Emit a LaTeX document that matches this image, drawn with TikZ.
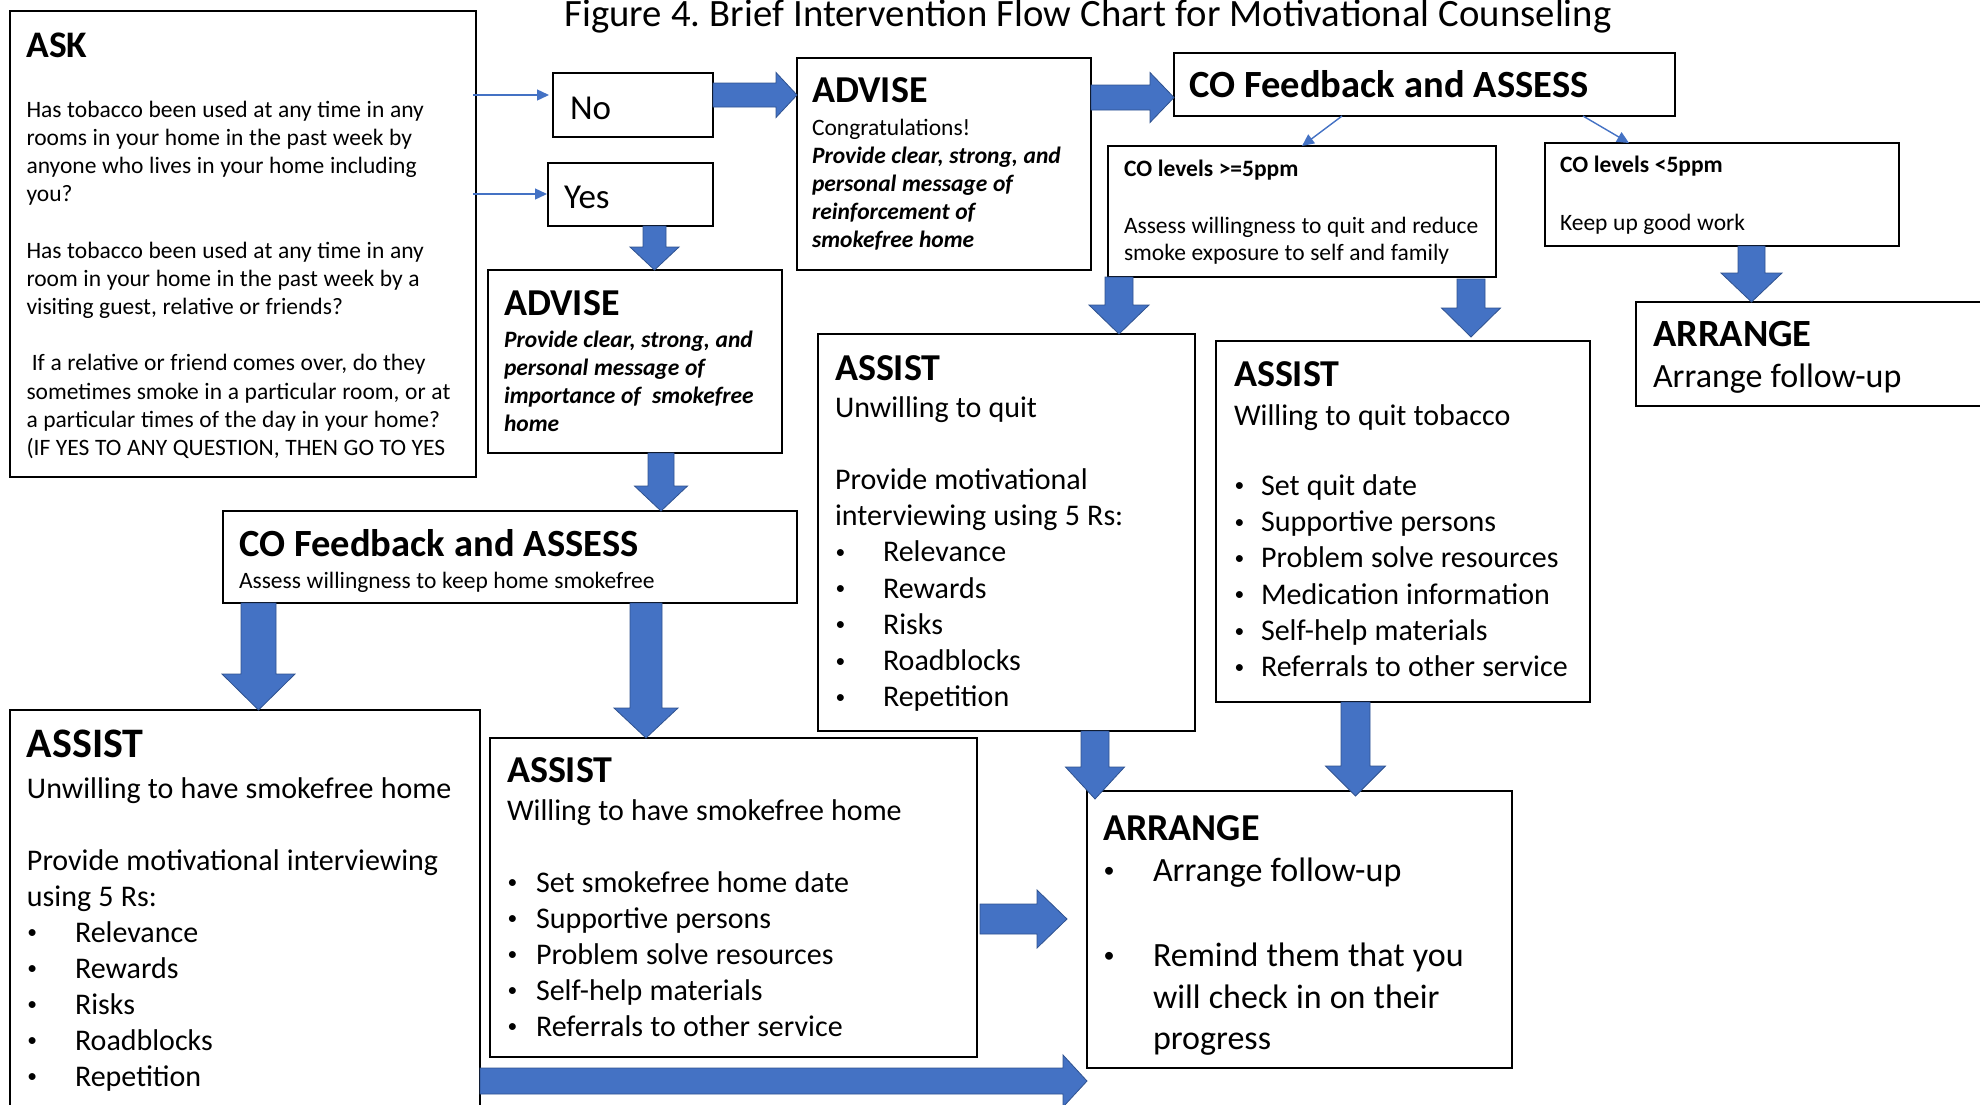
\documentclass[tikz,border=0pt]{standalone}
\usepackage{graphicx}
\usepackage{fontspec}
\setmainfont{Carlito}
\usetikzlibrary{arrows.meta,calc}
\definecolor{ablue}{HTML}{4472C4}
\definecolor{aedge}{HTML}{2F528F}
\newcommand\fsz[2]{\fontsize{#1pt}{#2pt}\selectfont}
\newcommand\sk{\frenchspacing\spaceskip=0.24em\relax\xspaceskip=0.24em\relax}
\newcommand\bul[1]{\makebox[#1][l]{\hspace{0.5pt}\raisebox{0.11em}{\scalebox{0.65}{\textbullet}}}}
% block arrow pointing down: x(px), from, to, shaft half width, head half width, head length
\newcommand\bdown[6]{\path[blockarr] let \p1=(#2), \p2=(#3) in
  (#1pt-#4pt,\y1) -- (#1pt-#4pt,\y2+#6pt) -- (#1pt-#5pt,\y2+#6pt) -- (#1pt,\y2)
  -- (#1pt+#5pt,\y2+#6pt) -- (#1pt+#4pt,\y2+#6pt) -- (#1pt+#4pt,\y1) -- cycle;}
% block arrow pointing right: y(px), from, to, shaft half width, head half width, head length
\newcommand\bright[6]{\path[blockarr] let \p1=(#2), \p2=(#3) in
  (\x1,-#1pt+#4pt) -- (\x2-#6pt,-#1pt+#4pt) -- (\x2-#6pt,-#1pt+#5pt) -- (\x2,-#1pt)
  -- (\x2-#6pt,-#1pt-#5pt) -- (\x2-#6pt,-#1pt-#4pt) -- (\x1,-#1pt-#4pt) -- cycle;}
\begin{document}
\begin{tikzpicture}[x=1pt,y=-1pt,
  bx/.style={draw=black,line width=1.8pt,inner sep=0pt,outer sep=0pt,anchor=north west},
  txt/.style={anchor=base west,inner sep=0pt,outer sep=0pt,text width=#1,align=left},
  thinarr/.style={draw=ablue,line width=1.4pt,-{Triangle[length=12pt,width=11pt]}},
  blockarr/.style={fill=ablue,draw=aedge,line width=0.8pt}]
\useasboundingbox (0,0) rectangle (1980,1104);
\clip (0,0) rectangle (1980,1104);

% ---------- boxes ----------
\node[bx,minimum width=466pt,minimum height=466pt] (ask) at (10,11) {};
\node[bx,minimum width=160pt,minimum height=64pt] (no) at (553,73) {};
\node[bx,minimum width=165pt,minimum height=63pt] (yes) at (548,163) {};
\node[bx,minimum width=294pt,minimum height=183pt] (advL) at (488,270) {};
\node[bx,minimum width=294pt,minimum height=212pt] (advT) at (797,58) {};
\node[bx,minimum width=501pt,minimum height=63pt] (coT) at (1174,53) {};
\node[bx,minimum width=388pt,minimum height=131pt] (ge5) at (1108,146) {};
\node[bx,minimum width=354pt,minimum height=103pt] (lt5) at (1545,143) {};
\node[bx,minimum width=400pt,minimum height=104pt] (arrR) at (1636,302) {};
\node[bx,minimum width=574pt,minimum height=92pt] (coL) at (223,511) {};
\node[bx,minimum width=377pt,minimum height=397pt] (uq) at (818,334) {};
\node[bx,minimum width=374pt,minimum height=361pt] (wq) at (1216,341) {};
\node[bx,minimum width=470pt,minimum height=420pt] (uh) at (10,710) {};
\node[bx,minimum width=487pt,minimum height=319pt] (wh) at (490,738) {};
\node[bx,minimum width=425pt,minimum height=277pt] (arrB) at (1087,791) {};

% ---------- texts ----------
\node[anchor=base,inner sep=0pt,font=\fsz{38.7}{46}] (title) at (1088,26.5)
  {\sk Figure 4. Brief Intervention Flow Chart for Motivational Counseling};

\node[txt=200pt,font={\fsz{37.5}{45}\bfseries}] (askH) at (26.5,57) {\sk ASK};
\node[txt=500pt,font=\fsz{23.5}{28.2}] (askB) at (26.5,117) {\sk Has tobacco been used at any time in any\\
 rooms in your home in the past week by\\
 anyone who lives in your home including\\
 you?\\[28.2pt]
 Has tobacco been used at any time in any\\
 room in your home in the past week by a\\
 visiting guest, relative or friends?\\[28.2pt]
 \hspace*{5.3pt}If a relative or friend comes over, do they\\
 sometimes smoke in a particular room, or at\\
 a particular times of the day in your home?\\
 (IF YES TO ANY QUESTION, THEN GO TO YES};

\node[txt=120pt,font=\fsz{35}{42}] (noT) at (570,119) {\sk No};
\node[txt=120pt,font=\fsz{35}{42}] (yesT) at (564,208) {\sk Yes};

\node[txt=280pt,font={\fsz{38}{46}\bfseries}] (advTH) at (812,102) {\sk ADVISE};
\node[txt=320pt,font=\fsz{23.5}{28}] (advTB) at (812,135) {\sk Congratulations!\\
 \bfseries\itshape Provide clear, strong, and\\ personal message of\\ reinforcement of\\ smokefree home};

\node[txt=280pt,font={\fsz{38}{46}\bfseries}] (advLH) at (504,315) {\sk ADVISE};
\node[txt=320pt,font={\fsz{23.5}{28}\bfseries\itshape}] (advLB) at (504,347) {\sk Provide clear, strong, and\\
 personal message of\\ importance of\ \ smokefree\\ home};

\node[txt=500pt,font={\fsz{38.5}{46}\bfseries}] (coTT) at (1189,97) {\sk CO Feedback and ASSESS};

\node[txt=400pt,font={\fsz{23.5}{28}\bfseries}] (ge5H) at (1124,176) {\sk CO levels >=5ppm};
\node[txt=400pt,font=\fsz{23.5}{27}] (ge5B) at (1124,233) {\sk Assess willingness to quit and reduce\\
 smoke exposure to self and family};

\node[txt=350pt,font={\fsz{23.5}{28}\bfseries}] (lt5H) at (1560,172) {\sk CO levels <5ppm};
\node[txt=350pt,font=\fsz{23.5}{28}] (lt5B) at (1560,230) {\sk Keep up good work};

\node[txt=320pt,font={\fsz{38.5}{46}\bfseries}] (arrRH) at (1653,346) {\sk ARRANGE};
\node[txt=320pt,font=\fsz{34}{41}] (arrRB) at (1653,387) {\sk Arrange follow-up};

\node[txt=600pt,font={\fsz{38.5}{46}\bfseries}] (coLH) at (239,556) {\sk CO Feedback and ASSESS};
\node[txt=600pt,font=\fsz{23.5}{28}] (coLB) at (239,588) {\sk Assess willingness to keep home smokefree};

\node[txt=380pt,font={\fsz{38}{46}\bfseries}] (uqH) at (835,380) {\sk ASSIST};
\node[txt=400pt,font=\fsz{30}{36.2}] (uqB) at (835,417) {\sk Unwilling to quit\\[36.2pt]
 Provide motivational\\ interviewing using 5 Rs:\\
 \bul{48pt}Relevance\\ \bul{48pt}Rewards\\ \bul{48pt}Risks\\ \bul{48pt}Roadblocks\\ \bul{48pt}Repetition};

\node[txt=380pt,font={\fsz{38}{46}\bfseries}] (wqH) at (1234,386) {\sk ASSIST};
\node[txt=400pt,font=\fsz{30}{36.3}] (wqB) at (1234,425) {\sk Willing to quit tobacco\\[33.8pt]
 \bul{27pt}Set quit date\\ \bul{27pt}Supportive persons\\ \bul{27pt}Problem solve resources\\
 \bul{27pt}Medication information\\ \bul{27pt}Self-help materials\\ \bul{27pt}Referrals to other service};

\node[txt=480pt,font={\fsz{42}{50}\bfseries}] (uhH) at (27,757) {\sk ASSIST};
\node[txt=500pt,font=\fsz{30}{36}] (uhB) at (27,798) {\sk Unwilling to have smokefree home\\[36pt]
 Provide motivational interviewing\\ using 5 Rs:\\
 \bul{48pt}Relevance\\ \bul{48pt}Rewards\\ \bul{48pt}Risks\\ \bul{48pt}Roadblocks\\ \bul{48pt}Repetition};

\node[txt=480pt,font={\fsz{38}{46}\bfseries}] (whH) at (507,782) {\sk ASSIST};
\node[txt=500pt,font=\fsz{30}{36}] (whB) at (507,820) {\sk Willing to have smokefree home\\[36pt]
 \bul{29pt}Set smokefree home date\\ \bul{29pt}Supportive persons\\ \bul{29pt}Problem solve resources\\
 \bul{29pt}Self-help materials\\ \bul{29pt}Referrals to other service};

\node[txt=420pt,font={\fsz{38}{46}\bfseries}] (arrBH) at (1103,840) {\sk ARRANGE};
\node[txt=450pt,font=\fsz{34}{41.5}] (arrBB) at (1103,881) {\sk\bul{50pt}Arrange follow-up\\[44pt]
 \bul{50pt}Remind them that you\\ \hspace*{50pt}will check in on their\\ \hspace*{50pt}progress};

% ---------- thin connectors ----------
\coordinate (askNo) at (473,95);
\coordinate (askYes) at (473,194);
\coordinate (coTa) at (1342,116);
\coordinate (coTb) at (1583,116);
\draw[thinarr,shorten >=4pt] (askNo) -- (askNo -| no.west);
\draw[thinarr,shorten >=1pt] (askYes) -- (askYes -| yes.west);
\draw[thinarr] (coTa) -- (ge5.north);
\draw[thinarr] (coTb) -- ([xshift=84pt]lt5.north west);

% ---------- block arrows ----------
\bright{95}{no.east}{advT.west}{12}{22.5}{21}
\bright{97.5}{advT.east}{coT.west}{12.5}{25}{24}
\bdown{654.5}{yes.south}{advL.north}{11.5}{24.5}{23}
\bdown{661}{advL.south}{coL.north}{13}{26.5}{25}
\bdown{258.5}{coL.south}{uh.north}{17.5}{36.5}{36}
\bdown{646}{coL.south}{wh.north}{16}{32}{30}
\bdown{1119}{ge5.south}{uq.north}{14}{30}{29}
\bdown{1471}{[yshift=-2pt]ge5.south}{[yshift=4pt]wq.north}{14}{29.5}{29}
\bdown{1751.5}{lt5.south}{arrR.north}{13.5}{30.5}{29}
\bdown{1095}{uq.south}{[yshift=-8pt]arrB.north}{14}{29.5}{32}
\bdown{1355.5}{wq.south}{[yshift=-5pt]arrB.north}{14.5}{30}{30}
\bright{919}{[xshift=3pt]wh.east}{[xshift=-20pt]arrB.west}{15}{29}{30}
\bright{1081}{uh.east}{arrB.west}{13}{26}{24}
\end{tikzpicture}
\end{document}
